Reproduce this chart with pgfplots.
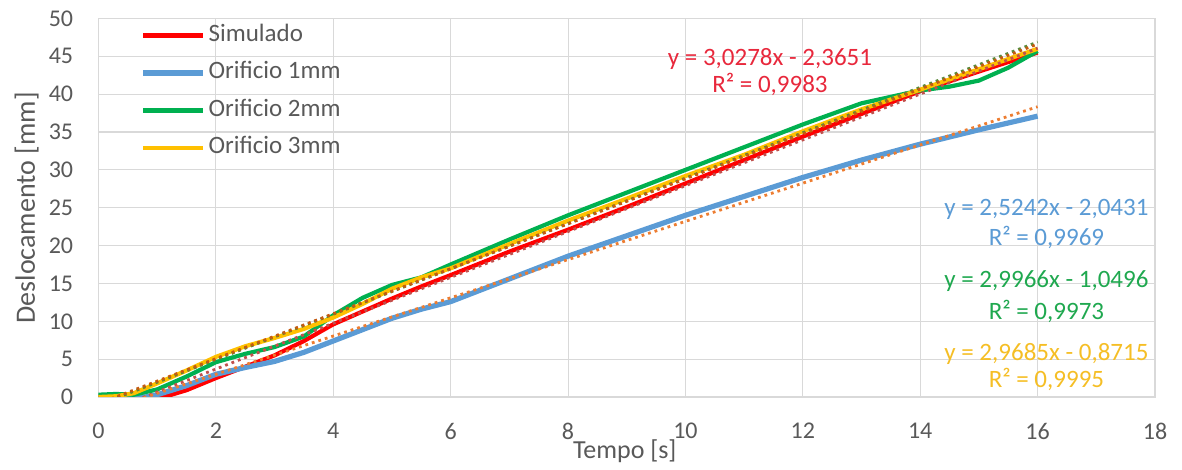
\documentclass[border=0pt]{standalone}
\usepackage{fontspec}
\setmainfont{Carlito}
\usepackage{pgfplots}
\pgfplotsset{compat=1.18}
\definecolor{txt}{HTML}{595959}
\definecolor{gridc}{HTML}{D9D9D9}
\definecolor{cred}{HTML}{FF0000}
\definecolor{cblue}{HTML}{5B9BD5}
\definecolor{cgreen}{HTML}{00B050}
\definecolor{cyel}{HTML}{FFC000}
\definecolor{tred}{HTML}{E8283C}
\definecolor{tblue}{HTML}{5B9BD5}
\definecolor{tgreen}{HTML}{1FA84F}
\definecolor{tyel}{HTML}{F5BE25}
\definecolor{fred}{HTML}{C0504D}
\definecolor{fblue}{HTML}{ED7D31}
\definecolor{fgreen}{HTML}{5A8A3A}
\definecolor{fyel}{HTML}{C55A11}
\begin{document}
\begin{tikzpicture}
\useasboundingbox (-49.25pt,-36.5pt) rectangle (541.75pt,198.5pt);
\begin{axis}[
  scale only axis, width=528.25pt, height=189.25pt,
  xmin=0, xmax=18, ymin=0, ymax=50,
  xtick={0,2,...,18}, ytick={0,5,...,50},
  grid=major, major grid style={gridc, line width=0.55pt},
  axis line style={gridc, line width=0.55pt},
  major tick length=0pt, tick style={draw=none},
  /pgf/number format/assume math mode=true,
  tick label style={font=\fontsize{12}{14}\selectfont, text=txt},
  xticklabel style={anchor=north, inner sep=0pt, yshift=-13pt},
  yticklabel style={anchor=east, inner sep=0pt, xshift=-12.5pt},
  xlabel={Tempo [s]}, ylabel={Deslocamento [mm]},
  label style={text=txt},
  xlabel style={font=\fontsize{13}{15}\selectfont, inner sep=0pt, at={([yshift=-31pt,xshift=-1pt]axis description cs:0.5,0)}, anchor=base},
  ylabel style={font=\fontsize{14}{16}\selectfont, at={([xshift=-31.75pt]axis description cs:0,0.5)}, anchor=base, rotate=0},
  clip mode=individual,
  legend style={at={(axis description cs:0.0393,0.988)}, anchor=north west, draw=none, fill=none,
    inner sep=0pt, font=\fontsize{12.5}{14}\selectfont, text=txt, row sep=6.75pt, column sep=1.5pt,
    nodes={inner sep=0pt, text height=9pt, text depth=3pt}},
  legend cell align=left,
  legend image code/.code={\draw[#1] (0pt,0pt) -- (30pt,0pt);},
]
\addplot[cred, line width=2.1pt, line join=round] coordinates {
(0,0) (0.5,0) (1.0,0) (1.2,0.2) (1.5,0.9) (2,2.5) (2.5,4.0) (3,5.5) (3.5,7.4) (4,9.6) (4.5,11.3) (5,13.0) (5.5,14.6) (6,16.1) (7,19.2) (8,22.1) (9,25.1) (10,28.2) (11,31.3) (12,34.4) (13,37.4) (14,40.4) (15,43.0) (16,45.5)};
\addlegendentry{Simulado}
\addplot[cblue, line width=2.6pt, line join=round] coordinates {
(0,0) (0.5,0) (0.8,0) (1.0,0.3) (1.5,1.5) (2,3.0) (2.5,3.9) (3,4.7) (3.5,5.9) (4,7.4) (4.5,8.9) (5,10.4) (5.5,11.6) (6,12.6) (7,15.6) (8,18.6) (9,21.3) (10,24.0) (11,26.5) (12,29.0) (13,31.3) (14,33.4) (15,35.3) (16,37.1)};
\addlegendentry{Orificio 1mm}
\addplot[cgreen, line width=2.1pt, line join=round] coordinates {
(0,0.3) (0.3,0.4) (0.6,0.3) (1.0,1.0) (1.5,2.7) (2,4.6) (2.5,5.7) (3,6.6) (3.5,8.0) (4,10.8) (4.5,13.1) (5,14.8) (5.5,15.8) (6,17.5) (7,20.8) (8,24.0) (9,27.0) (10,30.0) (11,33.0) (12,36.0) (13,38.8) (14,40.5) (14.5,41.0) (15,41.8) (15.5,43.5) (16,45.7)};
\addlegendentry{Orificio 2mm}
\addplot[cyel, line width=2.1pt, line join=round] coordinates {
(0,0) (0.3,0.1) (0.6,0.5) (1.0,1.8) (1.5,3.5) (2,5.3) (2.5,6.7) (3,7.8) (3.5,9.0) (4,10.5) (4.5,12.3) (5,14.3) (5.5,15.8) (6,17.0) (7,20.2) (8,23.3) (9,26.2) (10,29.2) (11,32.0) (12,35.1) (13,38.0) (14,40.6) (15,43.3) (16,46.0)};
\addlegendentry{Orificio 3mm}
\addplot[fred, line width=1.4pt, dotted, forget plot] coordinates {(0,-2.3651) (16,46.0797)};
\addplot[fblue, line width=1.4pt, dotted, forget plot] coordinates {(0,-2.0431) (16,38.3441)};
\addplot[fgreen, line width=1.4pt, dotted, forget plot] coordinates {(0,-1.0496) (16,46.8960)};
\addplot[fyel, line width=1.4pt, dotted, forget plot] coordinates {(0,-0.8715) (16,46.6245)};
\begin{scope}[font=\fontsize{12.5}{14}\selectfont]
\node[anchor=base, text=tred] at (axis cs:11.44,43.79) {y = 3,0278x - 2,3651};
\node[anchor=base, text=tred] at (axis cs:11.44,40.22) {R² = 0,9983};
\node[anchor=base, text=tblue] at (axis cs:16.15,23.98) {y = 2,5242x - 2,0431};
\node[anchor=base, text=tblue] at (axis cs:16.15,20.01) {R² = 0,9969};
\node[anchor=base, text=tgreen] at (axis cs:16.15,14.46) {y = 2,9966x - 1,0496};
\node[anchor=base, text=tgreen] at (axis cs:16.15,10.24) {R² = 0,9973};
\node[anchor=base, text=tyel] at (axis cs:16.15,4.82) {y = 2,9685x - 0,8715};
\node[anchor=base, text=tyel] at (axis cs:16.15,1.25) {R² = 0,9995};
\end{scope}
\end{axis}
\end{tikzpicture}
\end{document}
